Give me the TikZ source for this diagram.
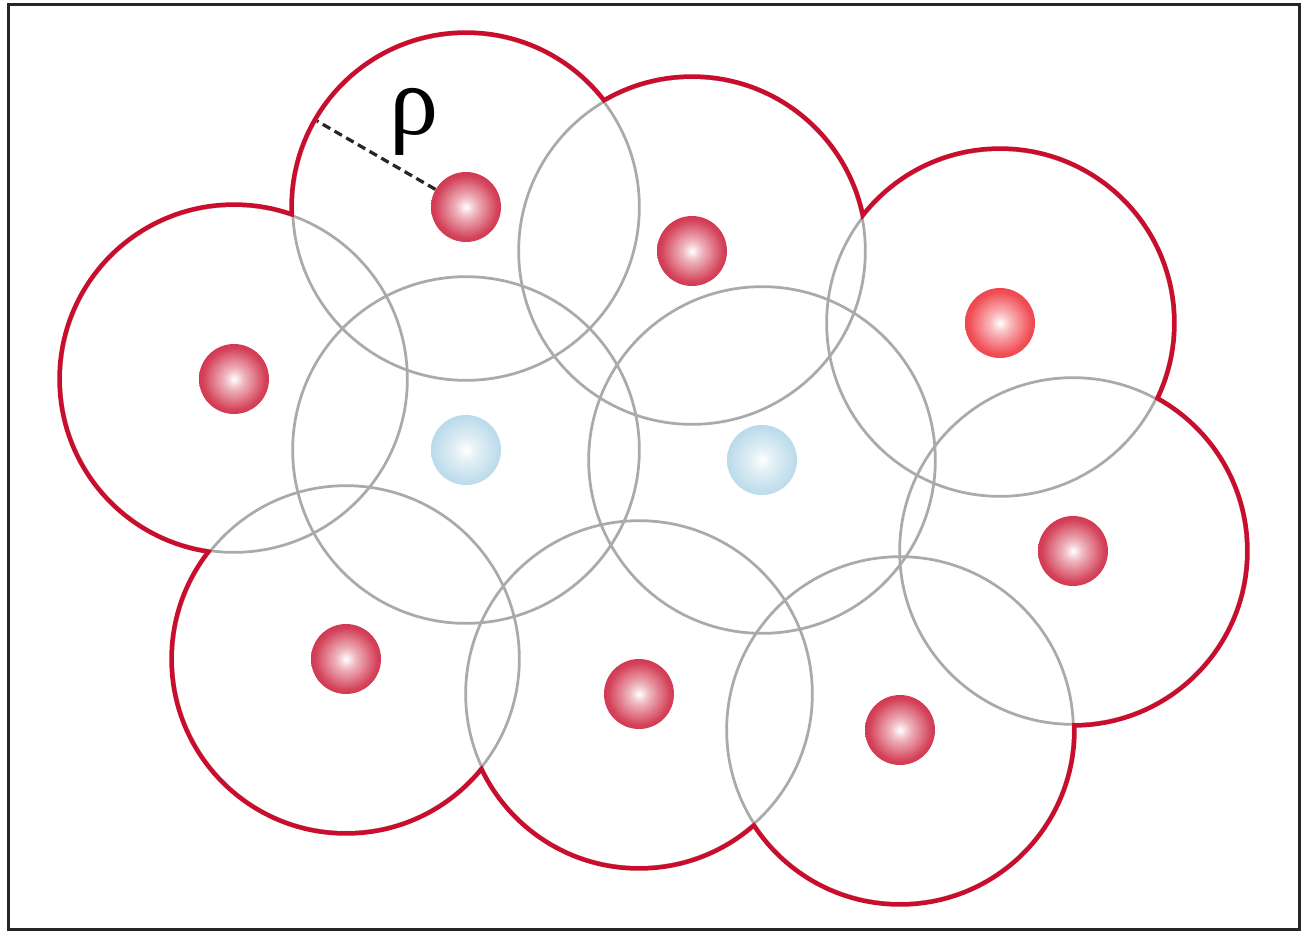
\documentclass[tikz,border=0pt]{standalone}
\usepackage{fontspec}
\setmainfont{Liberation Serif}
\definecolor{rimred}{RGB}{200,14,44}
\definecolor{hotred}{RGB}{236,30,40}
\definecolor{iceblue}{RGB}{160,204,226}
\definecolor{ringgrey}{RGB}{170,170,170}
% sphere shadings, scaled to the node's bounding box (50bp = radius)
\pgfdeclareradialshading{redsphere}{\pgfpoint{0bp}{0bp}}{color(0bp)=(white); color(7bp)=(rimred!30!white); color(22bp)=(rimred!78!white); color(38bp)=(rimred); color(50bp)=(rimred!92!black)}
\pgfdeclareradialshading{hotsphere}{\pgfpoint{0bp}{0bp}}{color(0bp)=(white); color(7bp)=(hotred!30!white); color(22bp)=(hotred!78!white); color(38bp)=(hotred); color(50bp)=(hotred!95!black)}
\pgfdeclareradialshading{bluesphere}{\pgfpoint{0bp}{0bp}}{color(0bp)=(white); color(8bp)=(iceblue!30!white); color(28bp)=(iceblue!80!white); color(44bp)=(iceblue); color(50bp)=(iceblue)}

\begin{document}
\begin{tikzpicture}[
    x=0.02cm, y=-0.02cm,
    frame/.style={draw=black!85, line width=0.06cm},
    rim/.style={draw=rimred, line width=0.19cm},
    hole/.style={fill=white},
    ring/.style={draw=ringgrey, line width=0.055cm},
    ball/.style={circle, minimum size=1.4cm, inner sep=0pt},
    redball/.style={ball, shading=redsphere},
    hotball/.style={ball, shading=hotsphere},
    blueball/.style={ball, shading=bluesphere},
    radiusline/.style={draw=black!85, line width=0.065cm, dash pattern=on 0.17cm off 0.1cm},
    rholabel/.style={font=\fontsize{56}{58}\selectfont, inner sep=0pt}
]
\def\rr{3.44cm}
\def\rg{3.4675cm}

\useasboundingbox (0,0) rectangle (1301,931);
\draw[frame] (8.5,4.5) rectangle (1299.5,929.5);

% centres of the spheres
\coordinate (c1) at (466,207);
\coordinate (c2) at (692,251);
\coordinate (c3) at (1000,323);
\coordinate (c4) at (234,379);
\coordinate (c5) at (466,450);
\coordinate (c6) at (762,460);
\coordinate (c7) at (1073,551);
\coordinate (c8) at (346,659);
\coordinate (c9) at (639,694);
\coordinate (c10) at (900,730);

% outer boundary (red), then interior cut out
\foreach \c in {c1,c2,c3,c4,c5,c6,c7,c8,c9,c10}
    \draw[rim] (\c) circle (\rr);
\foreach \c in {c1,c2,c3,c4,c5,c6,c7,c8,c9,c10}
    \fill[hole] (\c) circle (\rr);

% grey spheres of influence, kept inside the union
\begin{scope}
    \clip (c1) circle (\rr) (c2) circle (\rr) (c3) circle (\rr) (c4) circle (\rr)
          (c5) circle (\rr) (c6) circle (\rr) (c7) circle (\rr) (c8) circle (\rr)
          (c9) circle (\rr) (c10) circle (\rr);
    \foreach \c in {c1,c2,c3,c4,c5,c6,c7,c8,c9,c10}
        \draw[ring] (\c) circle (\rg);
\end{scope}

% spheres
\node[redball] (b1) at (c1) {};
\node[redball] (b2) at (c2) {};
\node[hotball] (b3) at (c3) {};
\node[redball] (b4) at (c4) {};
\node[blueball] (b5) at (c5) {};
\node[blueball] (b6) at (c6) {};
\node[redball] (b7) at (c7) {};
\node[redball] (b8) at (c8) {};
\node[redball] (b9) at (c9) {};
\node[redball] (b10) at (c10) {};

% radius
\coordinate (rimpt) at ([shift={(150:\rr)}]c1);
\draw[radiusline] (b1.150) -- (rimpt);
\node[rholabel] (rho) at (414,122) {ρ};

\end{tikzpicture}
\end{document}
